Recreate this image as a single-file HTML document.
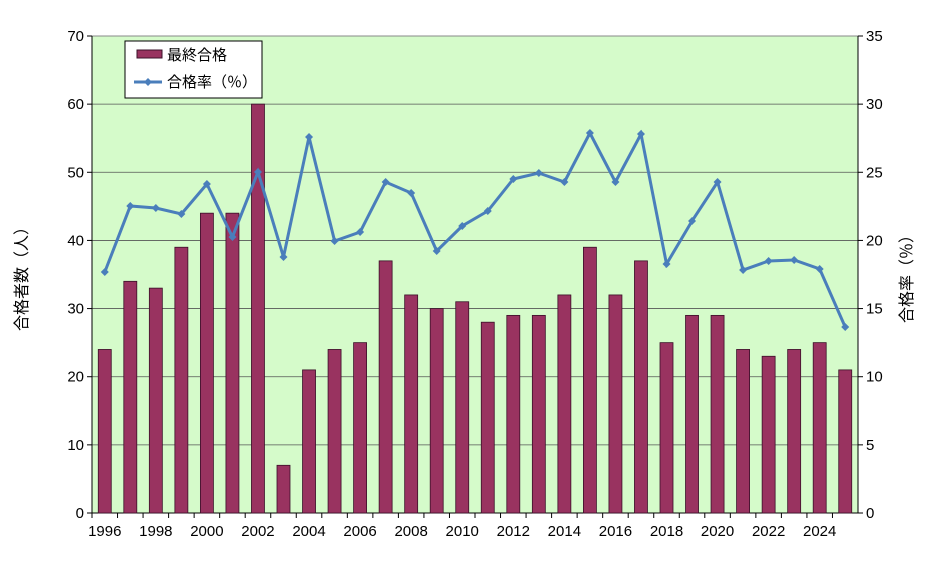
<!DOCTYPE html><html><head><meta charset="utf-8"><style>body{margin:0;background:#fff}svg{display:block;font-family:"Liberation Sans","Noto Sans CJK JP",sans-serif}</style></head><body>
<svg id="s" width="939" height="579" xmlns="http://www.w3.org/2000/svg"></svg>
<script>
const B=[24,34,33,39,44,44,60,7,21,24,25,37,32,30,31,28,29,29,32,39,32,37,25,29,29,24,23,24,25,21];
const R=[272,206,208,214,184,237,172,257,137,241,232,182,193,251,226,211,179,173,182,133,182,134,264,221,182,270,261,260,269,327];
const L=92,Rt=858,T=36,Bt=513,w=(Rt-L)/30,k=(Bt-T)/70;
let h=`<rect x="${L}" y="${T}" width="${Rt-L}" height="${Bt-T}" fill="#d5fbca" stroke="#888" stroke-width="1"/>`;
for(let i=0;i<=7;i++){const y=Bt-i*10*k;
 if(i>0&&i<7)h+=`<line x1="${L}" x2="${Rt}" y1="${y}" y2="${y}" stroke="#555" stroke-width="0.8"/>`;
 h+=`<line x1="${L-5}" x2="${L}" y1="${y}" y2="${y}" stroke="#000"/><line x1="${Rt}" x2="${Rt+5}" y1="${y}" y2="${y}" stroke="#000"/>`;
 h+=`<text x="${L-8}" y="${y+5}" font-size="15" text-anchor="end">${i*10}</text>`;
 h+=`<text x="${Rt+8}" y="${y+5}" font-size="15">${i*5}</text>`;}
h+=`<line x1="${L}" x2="${L}" y1="${T}" y2="${Bt}" stroke="#000"/><line x1="${Rt}" x2="${Rt}" y1="${T}" y2="${Bt}" stroke="#000"/><line x1="${L}" x2="${Rt}" y1="${Bt}" y2="${Bt}" stroke="#000"/>`;
B.forEach((v,i)=>{const cx=L+w*(i+.5);const y=Bt-v*k;
 h+=`<rect x="${cx-6.5}" y="${y}" width="13" height="${Bt-y}" fill="#993360" stroke="#3a1028" stroke-width="0.8"/>`;
 h+=`<line x1="${L+w*i}" x2="${L+w*i}" y1="${Bt}" y2="${Bt+5}" stroke="#000"/>`;
 if(i%2==0)h+=`<text x="${cx}" y="${Bt+23}" font-size="15" text-anchor="middle">${1996+i}</text>`;});
let p=R.map((y,i)=>`${(L+w*(i+.5)).toFixed(1)},${y}`).join(' ');
h+=`<polyline points="${p}" fill="none" stroke="#4a7ebb" stroke-width="3"/>`;
R.forEach((y,i)=>{const cx=L+w*(i+.5);h+=`<path d="M${cx-4} ${y}L${cx} ${y-4}L${cx+4} ${y}L${cx} ${y+4}Z" fill="#4a7ebb"/>`;});
h+=`<rect x="125" y="41" width="137" height="57" fill="#fff" stroke="#000"/>`;
h+=`<rect x="137" y="50" width="25" height="8" fill="#993360" stroke="#3a1028"/><text x="167" y="60" font-size="15">最終合格</text>`;
h+=`<line x1="134" x2="162" y1="82" y2="82" stroke="#4a7ebb" stroke-width="3"/><path d="M144 82L148 78L152 82L148 86Z" fill="#4a7ebb"/><text x="167" y="87" font-size="15">合格率（％）</text>`;
h+=`<text transform="translate(27,275) rotate(-90)" font-size="16" text-anchor="middle">合格者数（人）</text>`;
h+=`<text transform="translate(912,275) rotate(-90)" font-size="16" text-anchor="middle">合格率（％）</text>`;
document.getElementById('s').innerHTML=h;
</script></body></html>
